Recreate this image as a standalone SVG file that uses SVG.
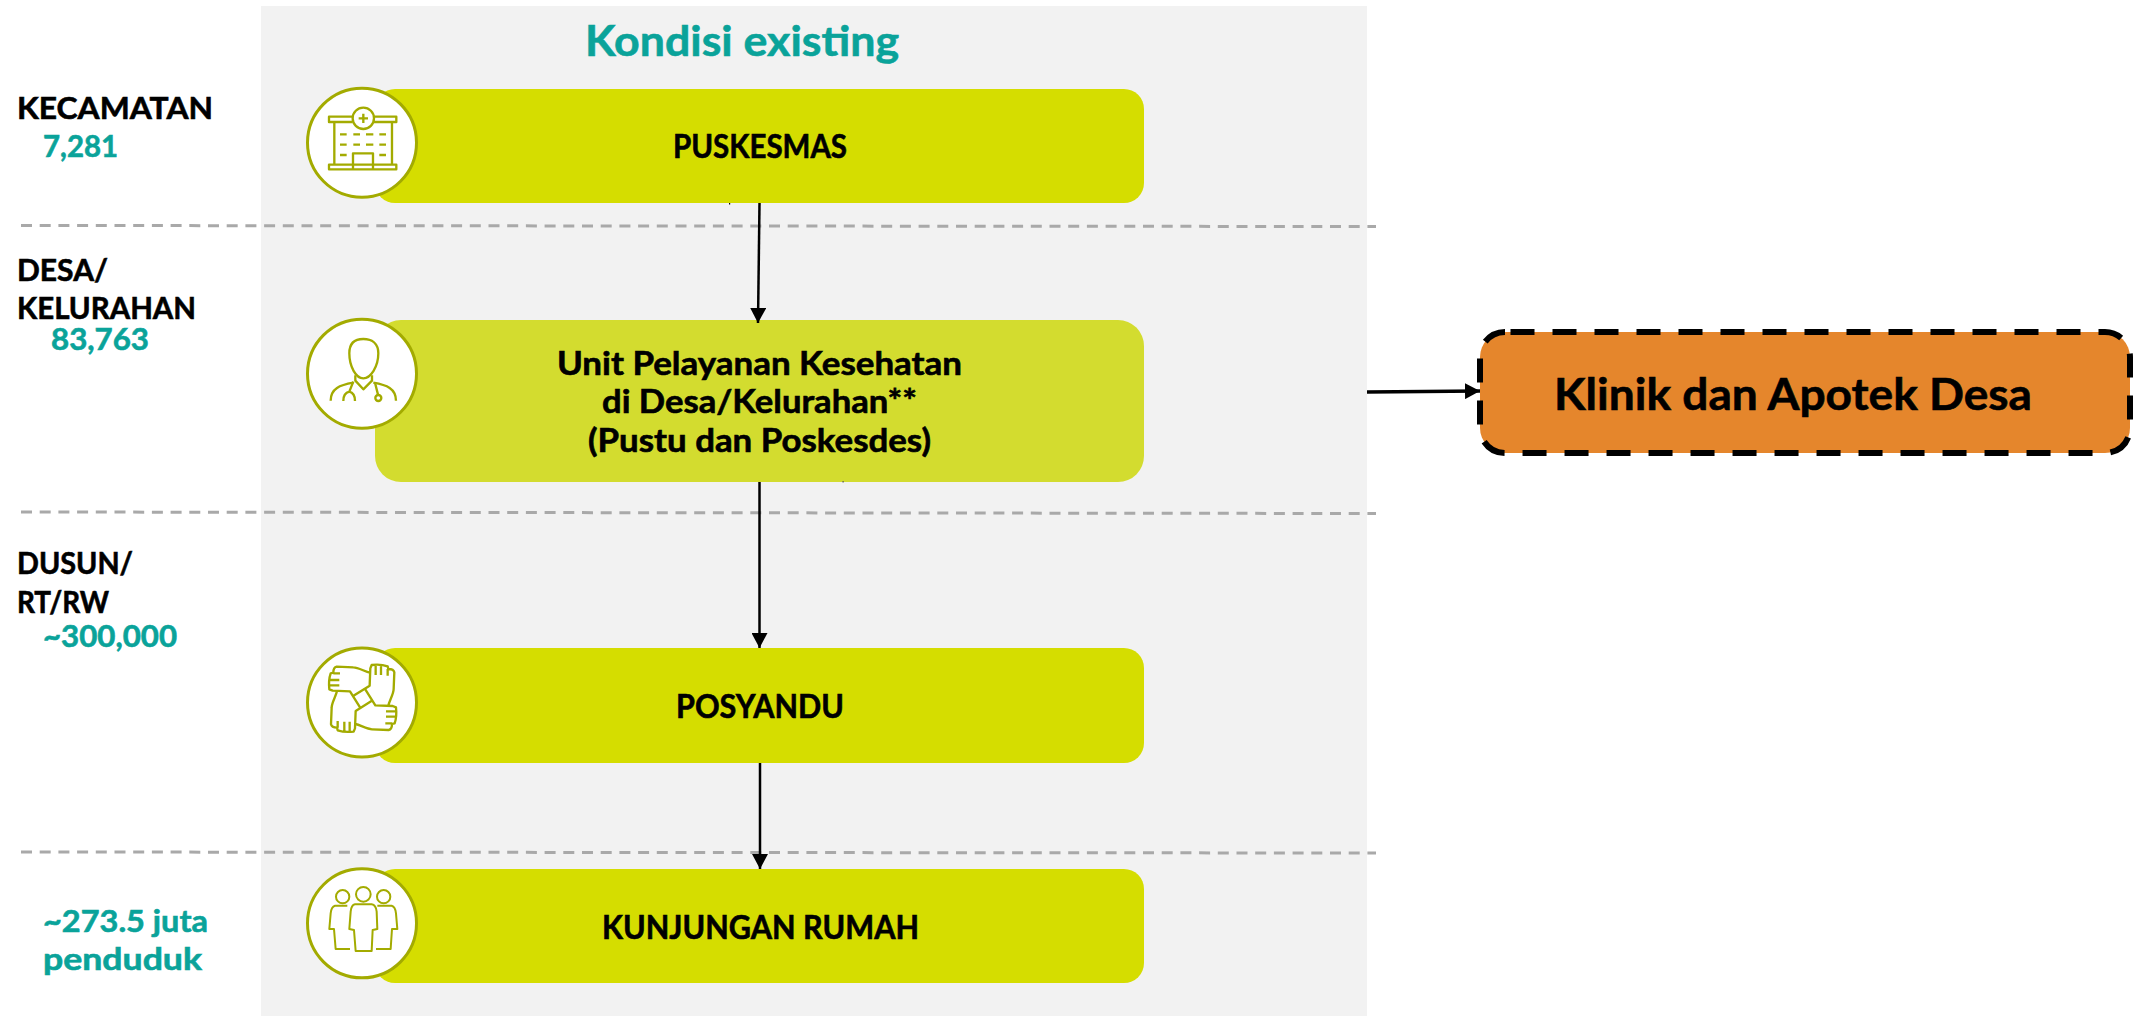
<svg xmlns="http://www.w3.org/2000/svg" width="2138" height="1016" viewBox="0 0 2138 1016">
<style>
text{font-family:"Lato","Open Sans","Liberation Sans",sans-serif;font-weight:700;fill:#000;stroke:#000;stroke-width:.6}
.lv{font-size:31px}
.ct{font-size:32px}
.tl{fill:#0aa39a;stroke:#0aa39a;font-size:31px}
.dash{stroke:#a9a9a9;stroke-width:3;stroke-dasharray:11 7.7;fill:none}
.box1{fill:#d5dd00}
.ring{fill:#fff;stroke:#a3ab00;stroke-width:3}
.ico{fill:none;stroke:#a3ab00;stroke-width:7;stroke-linejoin:round}
.ico2{fill:none;stroke:#a3ab00;stroke-width:6;stroke-linejoin:round}
.ln{stroke:#000;stroke-width:2.5;fill:none}
</style>
<defs>
<marker id="ah" markerUnits="userSpaceOnUse" markerWidth="16" markerHeight="16" refX="15" refY="8" orient="auto"><path d="M0 0L15 8L0 16Z" fill="#000"/></marker>
<g id="hand"><path d="M240 128C225 125 205 112 190 112L140 110Q130 112 130 128L122 130Q115 150 118 178L128 182L180 184L212 235M130 130H150M118 150H148M118 166H148"/></g>
</defs>
<rect id="panel" x="261" y="6" width="1106" height="1010" fill="#f2f2f2"/>
<text x="585" y="56" textLength="314" lengthAdjust="spacingAndGlyphs" style="font-size:42px;fill:#0aa39a;stroke:#0aa39a">Kondisi existing</text>
<g id="level-labels">
<text class="lv" x="17" y="119" textLength="196" lengthAdjust="spacingAndGlyphs">KECAMATAN</text>
<text class="tl" x="43" y="157" textLength="75" lengthAdjust="spacingAndGlyphs">7,281</text>
<text class="lv" x="17" y="281" textLength="91" lengthAdjust="spacingAndGlyphs">DESA/</text>
<text class="lv" x="17" y="319" textLength="179" lengthAdjust="spacingAndGlyphs">KELURAHAN</text>
<text class="tl" x="51" y="350" textLength="98" lengthAdjust="spacingAndGlyphs">83,763</text>
<text class="lv" x="17" y="574" textLength="116" lengthAdjust="spacingAndGlyphs">DUSUN/</text>
<text class="lv" x="17" y="613" textLength="92" lengthAdjust="spacingAndGlyphs">RT/RW</text>
<text class="tl" x="43" y="647" textLength="134" lengthAdjust="spacingAndGlyphs">~300,000</text>
<text class="tl" x="43" y="932" textLength="165" lengthAdjust="spacingAndGlyphs">~273.5 juta</text>
<text class="tl" x="43" y="970" textLength="159" lengthAdjust="spacingAndGlyphs">penduduk</text>
</g>
<g id="level-dividers">
<path class="dash" d="M21 225.5L1376 226.5"/>
<path class="dash" d="M21 512L1376 513.5"/>
<path class="dash" d="M21 852L1376 853"/>
</g>
<g id="node-puskesmas">
<rect class="box1" x="375" y="89" width="769" height="114" rx="20"/>
<circle class="ring" cx="362" cy="142.7" r="54.5"/>
<g transform="translate(290 70) scale(.3333)">
<path class="ico" d="M188 140H117V156H188M252 140H319V156H252M133 156V282M306 156V282M117 284H319V298H117ZM189 296V250H249V296"/>
<circle class="ico" cx="220" cy="145" r="32"/>
<path class="ico" d="M220 131V159M206 145H234"/>
<path class="ico" d="M150 193H170M190 193H210M228 193H250M268 193H288M150 224H170M190 224H210M228 224H250M268 224H288M150 255H170M268 255H288"/>
</g>
<text class="ct" x="673" y="158" textLength="174" lengthAdjust="spacingAndGlyphs">PUSKESMAS</text>
<rect x="729" y="203" width="1.2" height="1.5" fill="#000"/>
</g>
<g id="node-unit-pelayanan">
<rect x="375" y="320" width="769" height="162" rx="26" fill="#d3dc2f"/>
<circle class="ring" cx="362" cy="373.7" r="54.5"/>
<g transform="translate(290 300) scale(.3333)">
<path class="ico" d="M220 117C195 117 178 130 178 160C178 200 198 235 220 235C242 235 265 200 265 160C265 130 245 117 220 117Z"/>
<path class="ico" d="M196 226V242L220 268L246 242V226M190 248C150 255 122 265 122 302M250 248C290 255 318 265 318 302"/>
<path class="ico" d="M190 245L178 275M178 275C165 278 160 290 160 303M178 275C190 278 195 290 195 303M255 248L264 284"/>
<circle class="ico" cx="265" cy="294" r="9"/>
</g>
<text class="ct" x="557" y="375" textLength="405" lengthAdjust="spacingAndGlyphs">Unit Pelayanan Kesehatan</text>
<text class="ct" x="602" y="413" textLength="315" lengthAdjust="spacingAndGlyphs">di Desa/Kelurahan**</text>
<text class="ct" x="588" y="452" textLength="343" lengthAdjust="spacingAndGlyphs">(Pustu dan Poskesdes)</text>
<rect x="842.5" y="481" width="1.2" height="1.5" fill="#555"/>
</g>
<g id="node-posyandu">
<rect class="box1" x="375" y="648" width="769" height="115" rx="20"/>
<circle class="ring" cx="362" cy="702.5" r="54.5"/>
<g transform="translate(290 630) scale(.3333)" class="ico">
<use href="#hand"/>
<use href="#hand" transform="rotate(90 218 205)"/>
<use href="#hand" transform="rotate(180 218 205)"/>
<use href="#hand" transform="rotate(270 218 205)"/>
</g>
<text class="ct" x="676" y="718" textLength="168" lengthAdjust="spacingAndGlyphs">POSYANDU</text>
</g>
<g id="node-kunjungan-rumah">
<rect class="box1" x="375" y="869" width="769" height="114" rx="20"/>
<circle class="ring" cx="362" cy="923.3" r="54.5"/>
<g transform="translate(290 855) scale(.3333)">
<circle class="ico2" cx="220" cy="118" r="22"/>
<circle class="ico2" cx="158" cy="125" r="20"/>
<circle class="ico2" cx="281" cy="125" r="20"/>
<path class="ico2" d="M195 148H245Q258 150 260 170L262 222L248 225L245 288H197L192 225L178 222L182 170Q184 150 195 148Z"/>
<path class="ico2" d="M172 152H135Q124 155 122 175L118 222H132L137 282H180M262 152H305Q316 155 318 175L322 222H306L302 282H258"/>
</g>
<text class="ct" x="602" y="939" textLength="317" lengthAdjust="spacingAndGlyphs">KUNJUNGAN RUMAH</text>
</g>
<g id="node-klinik-apotek">
<rect x="1480" y="332" width="650" height="121" rx="25" fill="#e5862c" stroke="#000" stroke-width="6" stroke-dasharray="24 18" stroke-dashoffset="-5.5"/>
<text x="1554" y="410" textLength="478" lengthAdjust="spacingAndGlyphs" style="font-size:43px">Klinik dan Apotek Desa</text>
</g>
<g id="connectors">
<path class="ln" marker-end="url(#ah)" d="M759.5 203L758 323"/>
<path class="ln" marker-end="url(#ah)" d="M759.5 482V648"/>
<path class="ln" marker-end="url(#ah)" d="M760 763V869"/>
<path marker-end="url(#ah)" d="M1367 392L1480 391" stroke="#000" stroke-width="3.5" fill="none"/>
</g>
</svg>
